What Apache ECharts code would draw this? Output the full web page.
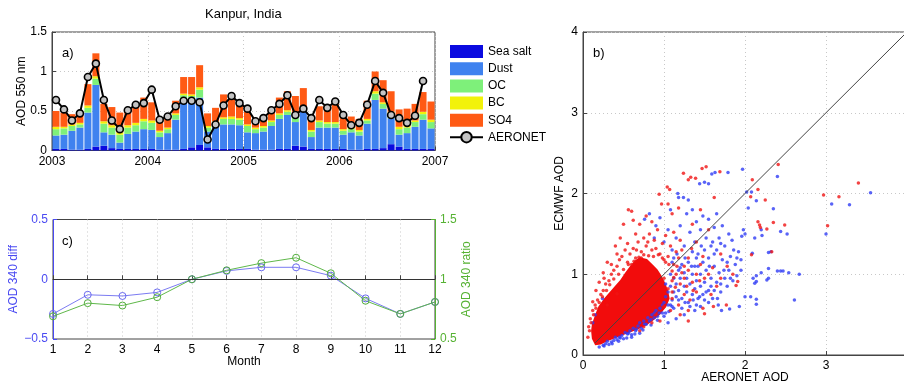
<!DOCTYPE html>
<html>
<head>
<meta charset="utf-8">
<script src="https://cdn.jsdelivr.net/npm/echarts@6/dist/echarts.min.js"></script>
<style>
html,body{margin:0;padding:0;background:#fff;}
#chart{width:904px;height:383px;}
</style>
</head>
<body>
<div id="chart"></div>
<script>
// a) monthly AOD components, Kanpur 2003-2006
var months = [];
for (var yr = 2003; yr <= 2006; yr++) {
    for (var m = 1; m <= 12; m++) months.push(yr + '-' + m);
}
var seaSalt = [0.02,0.02,0.01,0.01,0.02,0.05,0.06,0.03,0.02,0.02,0.02,0.02,
               0.02,0.01,0.01,0.01,0.02,0.04,0.07,0.04,0.02,0.02,0.02,0.02,
               0.02,0.01,0.01,0.01,0.02,0.02,0.06,0.05,0.02,0.02,0.02,0.02,
               0.02,0.01,0.01,0.02,0.02,0.03,0.08,0.05,0.02,0.02,0.02,0.02];
var dust = [0.17,0.18,0.24,0.28,0.46,0.78,0.17,0.17,0.08,0.19,0.22,0.25,
            0.24,0.16,0.21,0.38,0.62,0.59,0.60,0.20,0.28,0.31,0.31,0.30,
            0.21,0.21,0.23,0.30,0.38,0.43,0.30,0.44,0.15,0.27,0.27,0.27,
            0.18,0.22,0.18,0.32,0.62,0.50,0.33,0.15,0.20,0.28,0.37,0.26];
var oc = [0.08,0.08,0.06,0.04,0.06,0.08,0.11,0.09,0.10,0.08,0.08,0.10,
          0.09,0.06,0.05,0.06,0.06,0.06,0.10,0.05,0.05,0.07,0.07,0.07,
          0.08,0.05,0.05,0.05,0.05,0.04,0.07,0.03,0.07,0.07,0.05,0.05,
          0.05,0.04,0.05,0.04,0.08,0.06,0.05,0.07,0.07,0.06,0.07,0.08];
var bc = [0.03,0.02,0.02,0.02,0.03,0.03,0.03,0.03,0.03,0.03,0.03,0.03,
          0.03,0.02,0.02,0.02,0.02,0.02,0.03,0.02,0.02,0.02,0.03,0.02,
          0.02,0.02,0.02,0.02,0.02,0.02,0.02,0.02,0.02,0.02,0.02,0.02,
          0.02,0.02,0.02,0.02,0.03,0.02,0.03,0.03,0.02,0.02,0.03,0.03];
var so4 = [0.20,0.18,0.13,0.14,0.27,0.29,0.22,0.23,0.25,0.21,0.23,0.27,
           0.23,0.13,0.11,0.16,0.21,0.22,0.28,0.16,0.17,0.29,0.28,0.22,
           0.16,0.11,0.13,0.16,0.20,0.24,0.24,0.25,0.15,0.18,0.22,0.23,
           0.18,0.14,0.14,0.23,0.25,0.28,0.26,0.22,0.22,0.21,0.25,0.23];
var aeronet = [0.64,0.52,0.38,0.47,0.93,1.10,0.64,0.38,0.27,0.51,0.58,0.60,
               0.77,0.39,0.43,0.56,0.63,0.63,0.61,0.14,0.33,0.57,0.69,0.60,
               0.53,0.37,0.41,0.51,0.59,0.70,0.45,0.53,0.41,0.64,0.54,0.62,
               0.45,0.32,0.35,0.58,0.88,0.73,0.45,0.41,0.35,0.44,0.88,null];

// c) monthly climatology of 340 nm differences
var monthNum = [1,2,3,4,5,6,7,8,9,10,11,12];
var diff340 = [-0.29,-0.13,-0.14,-0.11,0.00,0.07,0.10,0.10,0.03,-0.16,-0.29,-0.19];
var ratio340 = [0.69,0.80,0.78,0.85,1.00,1.075,1.135,1.18,1.05,0.82,0.71,0.81];

// b) scatter ECMWF vs AERONET (x = AERONET, y = ECMWF)
// outline of the saturated red cloud
var redCore = [[0.15,0.12],[0.11,0.20],[0.10,0.30],[0.11,0.38],[0.15,0.50],[0.19,0.60],[0.26,0.70],
               [0.33,0.78],[0.40,0.86],[0.46,0.93],[0.52,1.02],[0.58,1.10],[0.64,1.17],[0.70,1.21],
               [0.79,1.19],[0.86,1.12],[0.92,1.06],[0.97,0.98],[1.01,0.90],[1.05,0.80],[1.07,0.70],
               [1.03,0.60],[0.95,0.50],[0.87,0.43],[0.79,0.37],[0.68,0.32],[0.58,0.28],[0.48,0.24],
               [0.38,0.20],[0.30,0.17],[0.22,0.13]];
var redDots = [[0.08,0.30],[0.09,0.45],[0.12,0.55],[0.15,0.62],[0.18,0.68],[0.22,0.75],[0.25,0.80],[0.28,0.88],
               [0.32,0.92],[0.35,1.00],[0.38,1.05],[0.42,1.10],[0.45,1.18],[0.48,1.22],[0.52,1.30],[0.55,1.15],
               [0.58,1.25],[0.62,1.32],[0.65,1.20],[0.68,1.40],[0.72,1.28],[0.75,1.45],[0.78,1.35],[0.82,1.50],
               [0.85,1.30],[0.88,1.42],[0.92,1.55],[0.95,1.25],[0.98,1.38],[1.02,1.48],[1.05,1.22],[1.08,1.35],
               [1.12,1.52],[1.15,1.28],[1.20,1.42],[1.25,1.10],[1.30,1.20],[0.30,1.15],[0.25,1.02],[0.40,1.35],
               [0.46,1.45],[0.50,1.62],[0.56,1.80],[0.60,1.78],[0.62,1.67],[0.70,1.62],[0.78,1.72],[0.85,1.65],
               [0.94,1.99],[0.97,1.87],[1.04,2.08],[1.05,1.87],[1.07,2.05],[1.10,1.75],[1.18,1.82],[1.24,2.25],
               [1.30,2.17],[1.33,2.20],[1.39,2.19],[1.47,2.31],[1.52,2.33],[1.69,2.27],[1.62,1.95],[1.45,1.80],
               [1.35,1.62],[1.55,1.55],[1.40,1.40],[1.00,0.95],[1.05,0.82],[1.10,0.92],[1.15,1.00],[1.20,0.88],
               [1.25,0.95],[1.30,1.05],[1.35,0.90],[1.40,1.00],[1.45,1.12],[1.50,0.95],[1.60,1.08],[1.65,0.85],
               [1.70,1.25],[1.78,1.10],[1.85,1.00],[1.89,0.86],[1.91,0.91],[1.10,0.70],[1.18,0.62],[1.25,0.75],
               [1.32,0.68],[1.40,0.78],[1.48,0.58],[1.50,0.51],[1.61,0.60],[1.77,0.62],[1.20,0.50],[1.30,0.42],
               [1.08,0.55],[2.07,1.96],[2.09,2.17],[2.16,2.05],[2.25,1.92],[2.41,2.36],[2.16,1.65],[2.18,1.61],
               [2.19,1.58],[2.27,1.56],[2.35,1.64],[2.49,1.61],[2.08,1.24],[2.33,1.28],[2.97,1.98],[3.16,1.96],
               [3.40,2.13],[3.02,1.60],[0.90,0.50],[0.95,0.42],[0.85,0.40],[1.00,0.60],[0.75,0.35],[0.70,0.30],
               [1.30,0.55],[1.02,1.15],[1.12,1.12],[0.98,1.20],[1.18,1.20],[1.22,1.30],[0.72,1.20],[0.60,1.12],
               [0.06,0.22],[0.07,0.35],[0.10,0.40],[0.13,0.50],[0.16,0.58],[0.20,0.65],[0.24,0.72],[0.29,0.80],
               [0.33,0.87],[0.38,0.94],[0.44,1.00],[0.50,1.06],[0.56,1.12],[0.63,1.16],[0.69,1.21],[0.75,1.24],
               [0.81,1.23],[0.87,1.22],[0.93,1.24],[1.00,1.18],[1.06,1.12],[1.10,1.04],[1.12,0.96],[1.14,0.84],
               [1.10,0.78],[0.20,0.90],[0.26,0.95],[0.35,1.12],[0.42,1.25],[0.55,1.38],[0.65,1.50],[0.30,0.62],
               [0.66,1.30],[0.80,1.40],[0.90,1.32],[1.16,1.10],[1.22,1.02],[1.28,0.85],[1.36,0.80],[1.44,0.92],
               [1.55,1.00],[1.58,0.75],[1.70,0.95],[1.34,1.32],[1.48,1.22],[0.16,0.80],[0.12,0.66],[0.42,0.76]];
var blueDots = [[0.20,0.10],[0.25,0.12],[0.28,0.14],[0.32,0.13],[0.35,0.16],[0.38,0.18],[0.42,0.19],[0.45,0.22],
                [0.48,0.24],[0.50,0.20],[0.55,0.26],[0.58,0.30],[0.60,0.25],[0.62,0.33],[0.65,0.30],[0.68,0.36],
                [0.70,0.40],[0.72,0.33],[0.75,0.42],[0.78,0.38],[0.80,0.46],[0.82,0.42],[0.85,0.50],[0.88,0.46],
                [0.90,0.55],[0.92,0.48],[0.95,0.58],[0.98,0.52],[0.40,0.22],[0.30,0.17],[0.52,0.28],
                [1.00,0.65],[1.02,0.72],[1.05,0.78],[1.05,0.62],[1.08,0.85],[1.10,0.68],[1.12,0.95],[1.12,0.78],
                [1.15,0.72],[1.15,0.88],[1.18,1.05],[1.18,0.80],[1.20,0.95],[1.22,0.70],[1.22,1.12],[1.25,0.85],
                [1.25,1.02],[1.28,0.78],[1.28,0.95],[1.30,1.15],[1.30,0.65],[1.32,0.88],[1.35,1.00],[1.35,0.75],
                [1.38,1.10],[1.38,0.82],[1.40,0.92],[1.42,1.25],[1.42,0.70],[1.45,1.00],[1.45,0.85],[1.48,1.15],
                [1.48,0.75],[1.50,1.30],[1.50,0.90],[1.52,1.05],[1.55,0.80],[1.55,1.20],[1.58,0.95],[1.60,1.40],
                [1.60,0.70],[1.62,1.10],[1.65,0.90],[1.65,1.30],[1.68,1.02],[1.70,0.78],[1.72,1.18],[1.75,0.95],
                [1.75,1.35],[1.78,0.85],[1.80,1.05],[1.82,1.22],[1.85,0.92],[1.88,1.12],[1.90,0.98],[1.92,1.28],
                [1.95,1.05],[1.96,1.47],[1.98,1.55],[2.00,1.50],[1.95,1.18],[1.10,1.30],[1.15,1.45],[1.20,1.60],
                [1.25,1.35],[1.28,1.75],[1.32,1.52],[1.35,1.80],[1.38,1.40],[1.40,1.65],[1.45,1.55],[1.48,1.72],
                [1.52,1.45],[1.55,1.68],[1.58,1.35],[1.62,1.58],[1.65,1.75],[1.68,1.45],[1.72,1.60],[1.05,1.55],
                [1.00,1.40],[0.95,1.70],[0.90,1.60],[0.88,1.45],[1.18,1.95],[1.24,1.95],[1.17,2.00],[1.44,2.12],
                [1.50,2.14],[1.55,2.12],[1.59,2.24],[1.63,2.26],[1.79,2.26],[1.97,2.30],[2.40,2.21],[0.82,1.75],
                [0.76,1.68],[1.08,1.80],[1.30,1.92],[2.02,2.02],[2.08,2.02],[2.14,1.91],[2.35,1.81],[2.04,1.82],
                [3.07,1.87],[3.29,1.86],[3.55,2.01],[3.00,1.50],[2.20,1.55],[2.44,1.53],[2.52,1.50],[2.21,1.48],
                [2.12,1.45],[2.09,1.26],[2.29,1.27],[2.32,1.28],[2.29,1.07],[2.40,1.04],[2.44,1.04],[2.47,1.04],
                [2.54,1.02],[2.67,1.00],[2.20,1.02],[2.12,0.89],[2.14,0.91],[2.27,0.93],[2.29,0.95],[2.10,0.95],
                [2.14,0.98],[2.00,0.72],[2.07,0.72],[2.14,0.69],[2.14,0.63],[2.61,0.68],[1.93,0.60],[1.71,0.55],
                [1.81,0.57],[1.67,0.62],[1.55,0.65],[1.45,0.60],[1.38,0.55],[1.25,0.50],[1.15,0.45],[1.05,0.40],
                [0.12,0.40],[0.15,0.50],[0.24,0.70],[1.08,1.00],[1.02,0.88],[1.12,1.20],[1.35,1.28],[1.42,1.10],
                [1.08,0.62],[1.12,0.58],[1.18,0.68],[1.22,0.58],[1.26,0.65],[1.32,0.60],[1.36,0.68],[1.40,0.62],
                [1.44,0.72],[1.50,0.68],[1.52,0.78],[1.58,0.85],[1.62,0.80],[1.66,0.70],[1.70,0.88],[1.74,1.05],
                [1.78,1.15],[1.82,0.95],[1.86,1.30],[1.90,1.20],[1.84,1.42],[1.80,1.50],[1.70,1.38],[1.62,1.25],
                [1.56,1.10],[1.46,1.35],[1.40,1.20],[1.34,1.10],[1.26,1.20],[1.20,1.08],[1.16,1.25],[1.10,1.15],
                [0.98,0.62],[0.94,0.52],[0.88,0.52],[0.84,0.44],[0.76,0.38],[0.66,0.32],[0.56,0.27],[0.46,0.21],
                [0.26,0.11],[0.36,0.14],[0.44,0.17],[0.54,0.21],[0.64,0.26],[0.74,0.31],[0.84,0.37],[0.92,0.43],
                [1.00,0.48],[1.06,0.54],[1.10,0.60],[1.02,0.52],[0.70,0.27],[0.60,0.22]];
var oneToOne = [[0.15,0.15],[4,4]];

var FONT = 'Liberation Sans, Arial, sans-serif';
var AX = '#444';

function baseAxis(extra) {
    var a = {
        axisLine: {lineStyle: {color: AX, width: 1}},
        axisTick: {inside: true, length: 4, lineStyle: {color: AX}},
        axisLabel: {color: '#000', fontSize: 12, fontFamily: FONT},
        splitLine: {show: false},
        nameMoveOverlap: false,
        nameTextStyle: {color: '#000', fontSize: 12, fontFamily: FONT}
    };
    for (var k in extra) a[k] = extra[k];
    return a;
}
var dotted = {show: true, lineStyle: {color: '#c8c8c8', type: [1, 3], width: 1}};
var blueAx = '#4a4af2', greenAx = '#56b233';

var myChart = echarts.init(document.getElementById('chart'), null, {renderer: 'canvas'});

option = {
    backgroundColor: '#fff',
    animation: false,
    textStyle: {fontFamily: FONT},
    grid: [
        {left: 52, top: 32, width: 383, height: 118.5, show: true, borderColor: AX, borderWidth: 1, outerBoundsMode: 'none'},
        {left: 53, top: 219.5, width: 382, height: 119.5, show: true, borderColor: AX, borderWidth: 1, outerBoundsMode: 'none'},
        {left: 583, top: 32, width: 324, height: 323, show: true, borderColor: AX, borderWidth: 1, outerBoundsMode: 'none'}
    ],
    legend: {
        orient: 'vertical', left: 449, top: 45, padding: 0, itemWidth: 33, itemHeight: 13, itemGap: 4.2,
        textStyle: {fontSize: 12, color: '#000', fontFamily: FONT},
        data: [
            {name: 'Sea salt', icon: 'rect'}, {name: 'Dust', icon: 'rect'}, {name: 'OC', icon: 'rect'},
            {name: 'BC', icon: 'rect'}, {name: 'SO4', icon: 'rect'}, {name: 'AERONET'}
        ]
    },
    graphic: [
        {type: 'text', left: 205, top: 8, style: {text: 'Kanpur, India', fill: '#000', font: '13px ' + FONT}},
        {type: 'text', left: 62, top: 47, style: {text: 'a)', fill: '#000', font: '13px ' + FONT}},
        {type: 'text', left: 62, top: 235, style: {text: 'c)', fill: '#000', font: '13px ' + FONT}},
        {type: 'text', left: 593, top: 47, style: {text: 'b)', fill: '#000', font: '13px ' + FONT}}
    ],
    xAxis: [
        {type: 'category', gridIndex: 0, data: months, show: false, position: 'bottom'},
        baseAxis({type: 'value', gridIndex: 0, position: 'bottom', min: 2003, max: 2007, interval: 1,
            axisLabel: {color: '#000', fontSize: 12, fontFamily: FONT, margin: 5,
                formatter: function (v) { return String(v); }},
            splitLine: dotted}),
        baseAxis({type: 'value', gridIndex: 1, min: 1, max: 12, interval: 1, name: 'Month',
            nameLocation: 'middle', nameGap: 17,
            axisLabel: {color: '#000', fontSize: 12, fontFamily: FONT, margin: 5},
            splitLine: dotted}),
        baseAxis({type: 'value', gridIndex: 2, min: 0, max: 4, interval: 1, name: 'AERONET AOD',
            nameLocation: 'middle', nameGap: 17,
            axisLabel: {color: '#000', fontSize: 12, fontFamily: FONT, margin: 5},
            splitLine: dotted})
    ],
    yAxis: [
        baseAxis({type: 'value', gridIndex: 0, min: 0, max: 1.5, interval: 0.5, name: 'AOD 550 nm',
            nameLocation: 'middle', nameGap: 24, splitLine: dotted,
            axisLabel: {color: '#000', fontSize: 12, fontFamily: FONT, margin: 5}}),
        baseAxis({type: 'value', gridIndex: 1, position: 'left', min: -0.5, max: 0.5, interval: 0.5,
            name: 'AOD 340 diff', nameLocation: 'middle', nameGap: 33,
            nameTextStyle: {color: blueAx, fontSize: 12, fontFamily: FONT},
            axisLine: {lineStyle: {color: blueAx}},
            axisTick: {inside: true, length: 4, lineStyle: {color: blueAx}},
            axisLabel: {color: blueAx, fontSize: 12, fontFamily: FONT, margin: 5,
                formatter: function (v) { return v < 0 ? '\u2212' + Math.abs(v) : String(v); }}}),
        baseAxis({type: 'value', gridIndex: 1, position: 'right', min: 0.5, max: 1.5, interval: 0.5,
            name: 'AOD 340 ratio', nameLocation: 'middle', nameGap: 26,
            nameTextStyle: {color: greenAx, fontSize: 12, fontFamily: FONT},
            axisLine: {lineStyle: {color: greenAx}},
            axisTick: {inside: true, length: 4, lineStyle: {color: greenAx}},
            axisLabel: {color: greenAx, fontSize: 12, fontFamily: FONT, margin: 5}}),
        baseAxis({type: 'value', gridIndex: 2, min: 0, max: 4, interval: 1, name: 'ECMWF AOD',
            nameLocation: 'middle', nameGap: 17, splitLine: dotted,
            axisLabel: {color: '#000', fontSize: 12, fontFamily: FONT, margin: 5}})
    ],
    series: [
        {name: 'Sea salt', type: 'bar', stack: 'aod', xAxisIndex: 0, yAxisIndex: 0, data: seaSalt,
            barCategoryGap: '12%', itemStyle: {color: '#0a0ae0'}},
        {name: 'Dust', type: 'bar', stack: 'aod', xAxisIndex: 0, yAxisIndex: 0, data: dust,
            barCategoryGap: '12%', itemStyle: {color: '#3f82ef'}},
        {name: 'OC', type: 'bar', stack: 'aod', xAxisIndex: 0, yAxisIndex: 0, data: oc,
            barCategoryGap: '12%', itemStyle: {color: '#7ef07a'}},
        {name: 'BC', type: 'bar', stack: 'aod', xAxisIndex: 0, yAxisIndex: 0, data: bc,
            barCategoryGap: '12%', itemStyle: {color: '#f2f20a'}},
        {name: 'SO4', type: 'bar', stack: 'aod', xAxisIndex: 0, yAxisIndex: 0, data: so4,
            barCategoryGap: '12%', itemStyle: {color: '#ff5a14'}},
        {name: 'AERONET', type: 'line', xAxisIndex: 0, yAxisIndex: 0, data: aeronet, z: 5,
            symbol: 'circle', symbolSize: 7, showAllSymbol: true, connectNulls: false,
            lineStyle: {color: '#000', width: 2},
            itemStyle: {color: '#c4c4c4', borderColor: '#000', borderWidth: 1.6}},

        {name: 'diff', type: 'line', xAxisIndex: 2, yAxisIndex: 1,
            data: monthNum.map(function (m, i) { return [m, diff340[i]]; }),
            symbol: 'circle', symbolSize: 7, lineStyle: {color: '#7b7bf2', width: 1},
            itemStyle: {color: 'rgba(0,0,0,0)', borderColor: '#6a6af0', borderWidth: 1},
            markLine: {silent: true, symbol: 'none', label: {show: false},
                lineStyle: {color: '#333', type: 'solid', width: 1}, data: [{yAxis: 0}]}},
        {name: 'ratio', type: 'line', xAxisIndex: 2, yAxisIndex: 2,
            data: monthNum.map(function (m, i) { return [m, ratio340[i]]; }),
            symbol: 'circle', symbolSize: 7, lineStyle: {color: '#5fb84a', width: 1},
            itemStyle: {color: 'rgba(0,0,0,0)', borderColor: '#52ad3c', borderWidth: 1}},

        {name: 'core', type: 'custom', xAxisIndex: 3, yAxisIndex: 3, data: redCore, silent: true, z: 2,
            renderItem: function (params, api) {
                if (params.dataIndex !== 0) return;
                var pts = redCore.map(function (p) { return api.coord(p); });
                return {type: 'polygon', shape: {points: pts}, style: {fill: '#f20c0c'}};
            }},
        {name: 'blue', type: 'scatter', xAxisIndex: 3, yAxisIndex: 3, data: blueDots, z: 3,
            symbolSize: 3.5, itemStyle: {color: '#2f3cf5'}},
        {name: 'red', type: 'scatter', xAxisIndex: 3, yAxisIndex: 3, data: redDots, z: 4,
            symbolSize: 3.5, itemStyle: {color: '#f01414'}},
        {name: '1:1', type: 'line', xAxisIndex: 3, yAxisIndex: 3, data: oneToOne, z: 6,
            symbol: 'none', lineStyle: {color: '#444', width: 1}}
    ]
};
myChart.setOption(option, true);
</script>
</body>
</html>
